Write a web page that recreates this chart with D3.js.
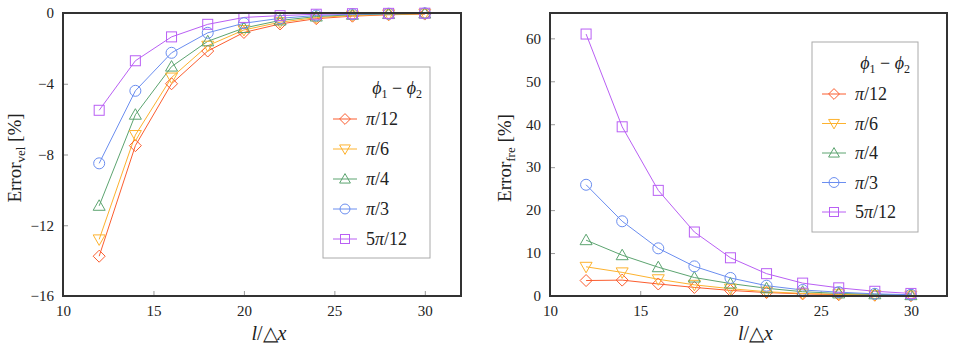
<!doctype html>
<html>
  <head>
    <meta charset="utf-8">
    <script src="https://cdn.jsdelivr.net/npm/d3@7"></script>
    <style>
      body { margin: 0; background: #fff; }
    </style>
  </head>
  <body>
    <svg id="chart" width="954" height="351"></svg>

    <script>
      // grid resolution l/dx
      var xs = [12, 14, 16, 18, 20, 22, 24, 26, 28, 30];

      var names = ["π/12", "π/6", "π/4", "π/3", "5π/12"];
      var colors = ["#fb5d2f", "#fdb22e", "#5ca470", "#6b8ef0", "#b95ff4"];
      var symbols = ["diamond", "down", "up", "circle", "square"];

      // velocity error [%]
      var velPi12  = [-13.75, -7.5, -4.0, -2.15, -1.1, -0.62, -0.32, -0.18, -0.1, -0.06];
      var velPi6   = [-12.8, -6.9, -3.65, -1.85, -0.96, -0.52, -0.26, -0.14, -0.08, -0.04];
      var velPi4   = [-10.9, -5.75, -3.03, -1.6, -0.85, -0.42, -0.2, -0.1, -0.06, -0.03];
      var velPi3   = [-8.5, -4.4, -2.25, -1.12, -0.58, -0.3, -0.14, -0.07, -0.04, -0.02];
      var vel5Pi12 = [-5.5, -2.7, -1.35, -0.64, -0.25, -0.15, -0.07, -0.04, -0.02, -0.01];

      // frequency error [%]
      var frePi12  = [3.6, 3.7, 2.8, 2.0, 1.3, 0.8, 0.5, 0.3, 0.2, 0.1];
      var frePi6   = [6.8, 5.5, 3.9, 2.6, 1.7, 1.0, 0.6, 0.4, 0.2, 0.1];
      var frePi4   = [13.0, 9.5, 6.7, 4.3, 2.9, 1.8, 1.0, 0.6, 0.4, 0.2];
      var frePi3   = [25.9, 17.4, 11.1, 6.9, 4.2, 2.4, 1.4, 0.9, 0.5, 0.3];
      var fre5Pi12 = [61.0, 39.4, 24.6, 14.9, 8.9, 5.2, 3.0, 1.9, 1.1, 0.6];

      var xTicks = [10, 15, 20, 25, 30];
      var velTicks = [0, -4, -8, -12, -16];
      var freTicks = [0, 10, 20, 30, 40, 50, 60];

      var FONT = "'Liberation Serif', 'Times New Roman', serif";

      var svg = d3.select("#chart").style("font-family", FONT);

      function marker(g, type, x, y, s, color) {
        if (type == "circle") {
          g.append("circle").attr("cx", x).attr("cy", y).attr("r", s * 0.55)
            .attr("fill", "none").attr("stroke", color);
        } else if (type == "square") {
          g.append("rect").attr("x", x - s / 2).attr("y", y - s / 2)
            .attr("width", s).attr("height", s)
            .attr("fill", "none").attr("stroke", color);
        } else {
          var h = s * 0.6, pts;
          if (type == "diamond") pts = [[x, y - h], [x + h, y], [x, y + h], [x - h, y]];
          if (type == "up") pts = [[x, y - h], [x + h, y + h * 0.75], [x - h, y + h * 0.75]];
          if (type == "down") pts = [[x, y + h], [x + h, y - h * 0.75], [x - h, y - h * 0.75]];
          g.append("polygon").attr("points", pts.map(function(p) { return p.join(","); }).join(" "))
            .attr("fill", "none").attr("stroke", color);
        }
      }

      function styleAxis(a) {
        a.attr("font-family", null);
        a.select(".domain").remove();
        a.selectAll("line").attr("stroke", "#999");
        a.selectAll("text").attr("font-size", 15).style("font-family", FONT).attr("fill", "#222");
      }

      function panel(opt) {
        var x = d3.scaleLinear().domain([10, 32]).range([opt.left, opt.right]);
        var y = d3.scaleLinear().domain(opt.domain).range([296, 13]);
        var g = svg.append("g");

        // ticks go inward
        g.append("g").attr("transform", "translate(0,296)")
          .call(d3.axisBottom(x).tickValues(xTicks).tickSizeInner(-5).tickSizeOuter(0).tickPadding(9))
          .call(styleAxis);
        g.append("g").attr("transform", "translate(" + opt.left + ",0)")
          .call(d3.axisLeft(y).tickValues(opt.ticks).tickSizeInner(-5).tickSizeOuter(0).tickPadding(9))
          .call(styleAxis);

        var line = d3.line().x(function(d) { return x(d[0]); }).y(function(d) { return y(d[1]); });

        opt.series.forEach(function(vals, i) {
          var pts = xs.map(function(v, j) { return [v, vals[j]]; });
          g.append("path").datum(pts).attr("d", line)
            .attr("fill", "none").attr("stroke", colors[i]).attr("stroke-width", 1);
        });
        opt.series.forEach(function(vals, i) {
          xs.forEach(function(v, j) {
            marker(g, symbols[i], x(v), y(vals[j]), 10, colors[i]);
          });
        });

        g.append("rect").attr("x", opt.left).attr("y", 13)
          .attr("width", opt.right - opt.left).attr("height", 283)
          .attr("fill", "none").attr("stroke", "#333").attr("stroke-width", 2);

        // legend
        var L = opt.legend;
        g.append("rect").attr("x", L.x).attr("y", L.y).attr("width", L.w).attr("height", L.h)
          .attr("fill", "#fff").attr("stroke", "#aaa").attr("stroke-width", 1);
        var t = g.append("text").attr("x", L.x + L.w - 8).attr("y", L.y + 27)
          .attr("text-anchor", "end").attr("font-size", 18).attr("fill", "#222");
        t.append("tspan").attr("font-style", "italic").text("ϕ");
        t.append("tspan").attr("font-size", 12).attr("dy", 4).text("1");
        t.append("tspan").attr("dy", -4).text(" − ");
        t.append("tspan").attr("font-style", "italic").text("ϕ");
        t.append("tspan").attr("font-size", 12).attr("dy", 4).text("2");
        names.forEach(function(n, i) {
          var yy = L.y + 52 + i * L.step;
          g.append("line").attr("x1", L.x + 10).attr("x2", L.x + 34).attr("y1", yy).attr("y2", yy)
            .attr("stroke", colors[i]).attr("stroke-width", 1);
          marker(g, symbols[i], L.x + 22, yy, 9, colors[i]);
          var lt = g.append("text").attr("x", L.x + 43).attr("y", yy + 6)
            .attr("font-size", 18).attr("fill", "#222");
          var parts = n.split("π");
          lt.append("tspan").text(parts[0]);
          lt.append("tspan").attr("font-style", "italic").text("π");
          lt.append("tspan").text(parts[1]);
        });

        // axis labels
        var xl = g.append("text").attr("x", (opt.left + opt.right) / 2 + 7).attr("y", 340)
          .attr("text-anchor", "middle").attr("font-size", 20).attr("fill", "#222");
        xl.append("tspan").attr("font-style", "italic").text("l");
        xl.append("tspan").text("/△");
        xl.append("tspan").attr("font-style", "italic").text("x");

        var yl = g.append("text").attr("transform", "translate(" + opt.ylabX + ",158) rotate(-90)")
          .attr("text-anchor", "middle").attr("font-size", 19).attr("fill", "#222");
        yl.append("tspan").text("Error");
        yl.append("tspan").attr("font-size", 13).attr("dy", 4).text(opt.sub);
        yl.append("tspan").attr("dy", -4).text(" [%]");
      }

      panel({
        left: 63, right: 461, domain: [-16, 0], ticks: velTicks,
        series: [velPi12, velPi6, velPi4, velPi3, vel5Pi12],
        sub: "vel", ylabX: 21,
        legend: { x: 323, y: 67, w: 107, h: 191, step: 30 }
      });
      panel({
        left: 550, right: 947, domain: [0, 65.9], ticks: freTicks,
        series: [frePi12, frePi6, frePi4, frePi3, fre5Pi12],
        sub: "fre", ylabX: 511,
        legend: { x: 812, y: 42, w: 106, h: 190, step: 29.5 }
      });
    </script>
  </body>
</html>
